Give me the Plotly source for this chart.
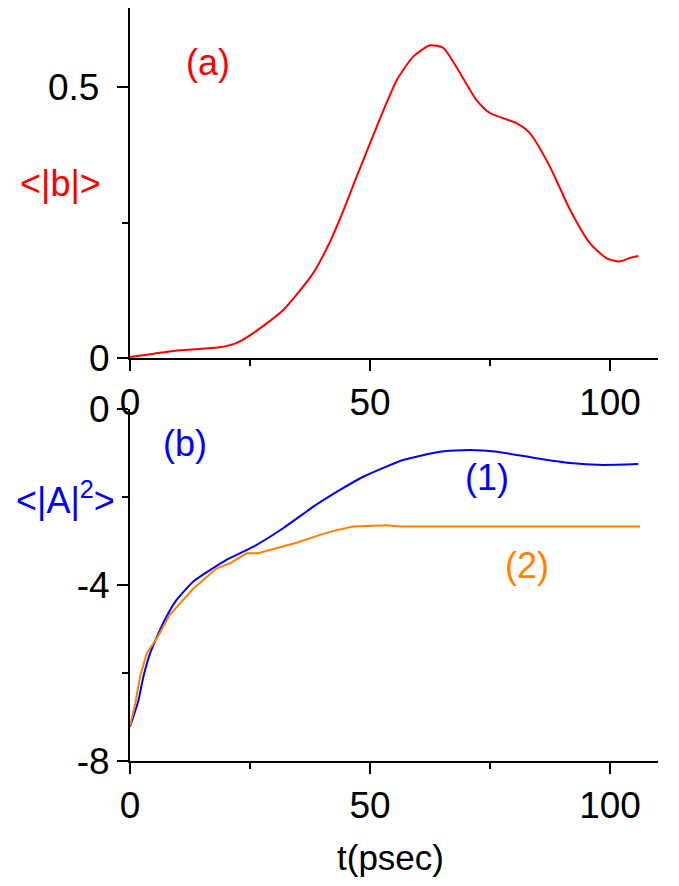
import plotly.graph_objects as go

# reference picture size and page body margin of the browser
REF_W, REF_H = 679, 886
BODY = 8
W, H = REF_W - 2 * BODY, REF_H - 2 * BODY

# ---- data ----
t_b = [0, 5, 10, 18.75, 22, 25.7, 32, 38.2, 41.7, 44, 47.2, 50, 52.8, 55.6, 59, 62.5, 65.3, 68,
       72.2, 75, 80.6, 83.3, 87.5, 91.7, 95.8, 99.3, 102, 104, 105.9]
b_vals = [0.002, 0.008, 0.014, 0.02, 0.027, 0.046, 0.089, 0.157, 0.215, 0.262, 0.334, 0.396, 0.457,
          0.513, 0.556, 0.577, 0.572, 0.537, 0.476, 0.452, 0.433, 0.415, 0.353, 0.273, 0.212, 0.184,
          0.178, 0.184, 0.188]

t_a1 = [0, 1.7, 2.8, 4.2, 6.9, 9.7, 13.2, 20.1, 25.7, 31.9, 38.2, 43.75, 48.6, 56.9, 64.6, 70.8,
        76.4, 84.7, 91.7, 98.6, 105.9]
a1_vals = [-7.22, -6.65, -6.08, -5.55, -4.87, -4.34, -3.92, -3.43, -3.13, -2.71, -2.22, -1.84, -1.54,
           -1.16, -0.97, -0.93, -0.97, -1.12, -1.23, -1.27, -1.25]

t_a2 = [0, 1.04, 2.1, 3.5, 5.6, 8.3, 13.2, 18.1, 20.8, 24.3, 26.7, 30.6, 34.7, 39.6, 42.4, 46.5,
        53.5, 56.25, 106.25]
a2_vals = [-7.2, -6.73, -6.08, -5.55, -5.21, -4.68, -4.08, -3.62, -3.51, -3.28, -3.28, -3.17, -3.04,
           -2.86, -2.77, -2.67, -2.64, -2.67, -2.67]

x_ticks = [0, 50, 100]
y_top_ticks = [0, 0.5]
y_top_labels = ["0", "0.5\u00a0"]
y_bot_ticks = [-8, -4, 0]
y_bot_labels = ["-8", "-4", "0"]

RED = "#ff0000"
BLUE = "#0000ff"
ORANGE = "#ff8000"
FONT = "Liberation Sans, Arial, Helvetica, sans-serif"
TICKFONT = dict(family=FONT, size=37, color="black")


def px(x):
    return (x - BODY) / W


def py(y):
    return min(1.0, max(0.0, 1 - (y - BODY) / H))


# top panel: y=0 at pixel 358, 0.5 at pixel 87 -> 542 px per unit; axis top at pixel 8
TOP_SCALE = (358 - 87) / 0.5
top_range = [0, (358 - BODY) / TOP_SCALE]

fig = go.Figure()
fig.add_trace(go.Scatter(x=t_b, y=b_vals, mode="lines", line=dict(color=RED, width=2, shape="spline", smoothing=0.6),
                         xaxis="x", yaxis="y", showlegend=False))
fig.add_trace(go.Scatter(x=t_a1, y=a1_vals, mode="lines", line=dict(color=BLUE, width=2, shape="spline", smoothing=0.5),
                         xaxis="x2", yaxis="y2", showlegend=False))
fig.add_trace(go.Scatter(x=t_a2, y=a2_vals, mode="lines", line=dict(color=ORANGE, width=2),
                         xaxis="x2", yaxis="y2", showlegend=False))

xdom = [px(130), px(658)]
common_x = dict(range=[0, 110], domain=xdom, showgrid=False, zeroline=False, showline=True,
                automargin=False,
                linecolor="black", linewidth=2, ticks="outside", ticklen=11, tickwidth=2,
                tickcolor="black", tickmode="array", tickvals=x_ticks, tickfont=TICKFONT,
                minor=dict(ticks="outside", ticklen=6, tickwidth=2, tickcolor="black", tickmode="array",
                           tickvals=[25, 75]))

fig.update_layout(
    template="none",
    width=W, height=H, margin=dict(l=0, r=0, t=0, b=0, autoexpand=False),
    paper_bgcolor="white", plot_bgcolor="white",
    xaxis=dict(anchor="y", **common_x),
    yaxis=dict(range=top_range, domain=[py(358), 1.0], anchor="x", showgrid=False, zeroline=False,
               automargin=False,
               showline=True, linecolor="black", linewidth=2, ticks="outside", ticklen=11, tickwidth=2,
               tickcolor="black", tickmode="array", tickvals=y_top_ticks, ticktext=y_top_labels,
               tickfont=TICKFONT,
               minor=dict(ticks="outside", ticklen=6, tickwidth=2, tickcolor="black", tickmode="array",
                          tickvals=[0.25])),
    xaxis2=dict(anchor="y2", **common_x),
    yaxis2=dict(range=[-8, 0], domain=[py(761), py(409)], anchor="x2", showgrid=False, zeroline=False,
                automargin=False,
                showline=True, linecolor="black", linewidth=2, ticks="outside", ticklen=11, tickwidth=2,
                tickcolor="black", tickmode="array", tickvals=y_bot_ticks, ticktext=y_bot_labels,
                tickfont=TICKFONT,
                minor=dict(ticks="outside", ticklen=6, tickwidth=2, tickcolor="black", tickmode="array",
                           tickvals=[-6, -2])),
)

anns = [
    ("(a)", 208, 62, RED, 36),
    ("&lt;|b|&gt;", 60, 183, RED, 36),
    ("(b)", 185, 443, BLUE, 36),
    ("&lt;|A|<sup>2</sup>&gt;", 65, 498, BLUE, 36),
    ("(1)", 487, 477, BLUE, 36),
    ("(2)", 527, 565, ORANGE, 36),
    ("t(psec)", 391, 857, "black", 35),
]
for text, x, y, c, s in anns:
    fig.add_annotation(text=text, x=px(x), y=py(y), xref="paper", yref="paper", showarrow=False,
                       xanchor="center", yanchor="middle",
                       font=dict(family=FONT, size=s, color=c))

fig.write_html("out.html")
